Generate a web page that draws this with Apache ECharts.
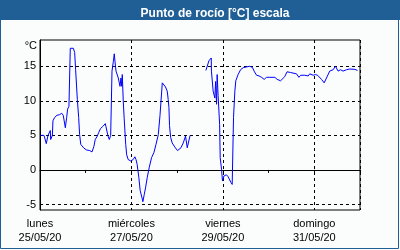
<!DOCTYPE html>
<html><head><meta charset="utf-8">
<script src="https://cdn.jsdelivr.net/npm/echarts@6/dist/echarts.min.js"></script>
<style>html,body{margin:0;padding:0;background:#fafdfb}#c{width:400px;height:250px}</style>
</head><body><div id="c"></div>
<script>
// hours since lunes 25/05/20 00:00
const hours = [
  0.4, 2.1, 3.3, 4.2, 5.4, 5.6, 6.5, 6.8, 7.7, 8.9,
  10.3, 11.4, 12.2, 13.3, 14.0, 14.5, 15.2, 15.9, 17.5, 18.2,
  18.7, 19.6, 20.3, 20.8, 21.4, 22.9, 24.3, 26.1, 26.9, 27.3,
  28.3, 29.0, 29.7, 30.1, 30.8, 31.8, 33.0, 34.3, 34.6, 35.7,
  36.4, 37.1, 37.8, 38.5, 39.0, 39.3, 39.9, 41.1, 42.0, 42.5,
  42.9, 43.2, 43.7, 44.2, 45.0, 45.5, 46.3, 47.6, 47.7, 48.9,
  49.8, 50.4, 51.0, 51.9, 52.6, 53.7, 54.0, 54.7, 55.4, 56.3,
  57.3, 58.6, 59.8, 60.9, 62.1, 63.0, 64.2, 64.7, 65.9, 66.8,
  67.3, 67.7, 68.0, 68.6, 69.4, 70.8, 72.2, 72.9, 74.0, 75.2,
  76.4, 77.3, 78.3, 78.8, 83.0,
  87.1, 88.7, 89.9, 90.0, 90.9, 91.8, 92.2, 92.7, 93.0, 93.5,
  94.3, 94.6, 95.3, 95.8, 96.5, 97.9, 98.8, 100.2, 100.9, 101.6,
  102.3, 102.8, 104.0, 105.3, 106.7, 108.4, 110.2, 111.6, 112.4, 113.7,
  115.0, 116.3, 117.7, 118.9, 120.7, 123.3, 124.5, 126.3, 128.5, 129.7,
  131.5, 134.7, 135.2, 135.9, 136.9, 139.0, 139.9, 140.8, 141.6, 143.4,
  144.6, 145.7, 147.8, 149.2, 150.4, 152.1, 153.9, 155.1, 156.5, 157.8,
  159.1, 160.9, 162.6, 165.3, 166.7
];
const dewPoint = [
  5.0, 5.0, 3.8, 5.0, 5.7, 4.4, 5.0, 7.1, 7.6, 7.9,
  8.0, 8.2, 7.9, 6.1, 7.6, 8.8, 9.2, 17.6, 17.6, 17.0,
  14.5, 10.2, 7.6, 5.1, 3.7, 3.2, 2.9, 2.8, 2.7, 2.6,
  3.4, 4.4, 4.2, 4.9, 5.4, 6.0, 6.3, 6.7, 6.3, 4.9,
  4.4, 5.0, 14.3, 15.7, 16.8, 15.9, 14.3, 13.3, 12.1, 13.3,
  12.1, 13.8, 10.0, 7.4, 3.7, 2.2, 1.5, 1.3, 1.1, 1.5,
  1.9, 1.5, 0.8, -1.1, -3.0, -4.2, -4.6, -3.6, -2.6, -1.1,
  0.3, 1.8, 2.5, 3.7, 5.1, 7.9, 12.6, 12.4, 12.0, 11.4,
  10.2, 9.0, 6.4, 4.7, 3.9, 3.3, 2.8, 2.7, 3.2, 3.9,
  4.9, 3.2, 3.2, 5.0, null,
  14.4, 15.8, 16.2, 14.3, 11.4, 10.4, 12.8, 9.5, 13.8, 10.8,
  6.6, 1.8, 0.1, -1.6, -0.9, -0.7, -1.0, -1.8, -2.1, 7.6,
  11.4, 12.9, 13.8, 14.5, 14.8, 14.9, 15.0, 14.8, 14.3, 13.7,
  13.6, 13.4, 13.1, 13.4, 13.4, 13.4, 13.1, 12.9, 13.5, 14.2,
  14.1, 13.9, 13.8, 13.4, 13.7, 13.7, 13.8, 13.6, 13.9, 13.7,
  13.8, 13.7, 13.1, 12.6, 13.3, 14.3, 14.5, 15.0, 14.3, 14.5,
  14.3, 14.5, 14.6, 14.55, 14.4
];
const dayNames = ['lunes', 'miércoles', 'viernes', 'domingo'];
const dayDates = ['25/05/20', '27/05/20', '29/05/20', '31/05/20'];
const yTicks = [-5, 0, 5, 10, 15];

const FONT = 'Liberation Sans';
const chart = echarts.init(document.getElementById('c'), null, {renderer: 'canvas'});
chart.setOption({
  animation: false,
  backgroundColor: '#fafdfb',
  title: {
    text: 'Punto de rocío [°C] escala', left: 210, top: 3, textAlign: 'center',
    textStyle: {color: '#ffffff', fontWeight: 'bold', fontSize: 12, fontFamily: FONT}
  },
  graphic: [
    {type: 'rect', z: 0, shape: {x: 0, y: 0, width: 400, height: 20}, style: {fill: '#1f5f95'}},
    {type: 'rect', z: 0, shape: {x: 0.5, y: 0.5, width: 398, height: 248}, style: {fill: null, stroke: '#1f5f95', lineWidth: 1}},
    {type: 'text', z: 5, style: {text: '°C', x: 37, y: 46, align: 'right', verticalAlign: 'middle', font: '11px ' + FONT, fill: '#000'}}
  ],
  grid: {left: 40, right: 40, top: 40, bottom: 40, show: true, borderColor: '#000', borderWidth: 1, backgroundColor: 'transparent'},
  xAxis: [
    {type: 'value', min: 0, max: 168, interval: 24, position: 'bottom',
     axisLine: {show: true, lineStyle: {color: '#000', width: 1}},
     axisTick: {show: true, length: 3, lineStyle: {color: '#000'}},
     axisLabel: {show: false}, splitLine: {show: false}},
    {type: 'value', min: 0, max: 168, interval: 48, position: 'bottom',
     axisLine: {show: false}, axisTick: {show: false},
     axisLabel: {show: true, showMinLabel: true, showMaxLabel: true, color: '#000', fontSize: 11, fontFamily: FONT, lineHeight: 14, margin: 7,
       formatter: function (v) { const i = v / 48; return (Number.isInteger(i) && i < dayNames.length) ? dayNames[i] + '\n' + dayDates[i] : ''; }},
     splitLine: {show: true, lineStyle: {color: '#000', width: 1, type: [3, 3]}}}
  ],
  yAxis: {
    type: 'value', min: -5.8, max: 18.8,
    axisLine: {show: true, lineStyle: {color: '#000'}},
    axisTick: {show: false, customValues: yTicks},
    axisLabel: {customValues: yTicks, color: '#000', fontSize: 11, fontFamily: FONT, margin: 4},
    splitLine: {show: true, lineStyle: {color: '#000', width: 1, type: [3, 3]}}
  },
  series: [{
    type: 'line', xAxisIndex: 0, yAxisIndex: 0,
    data: hours.map((h, i) => [h, dewPoint[i]]),
    showSymbol: false, symbol: 'none', connectNulls: false,
    lineStyle: {color: '#0000ff', width: 1}
  }]
});
</script></body></html>
